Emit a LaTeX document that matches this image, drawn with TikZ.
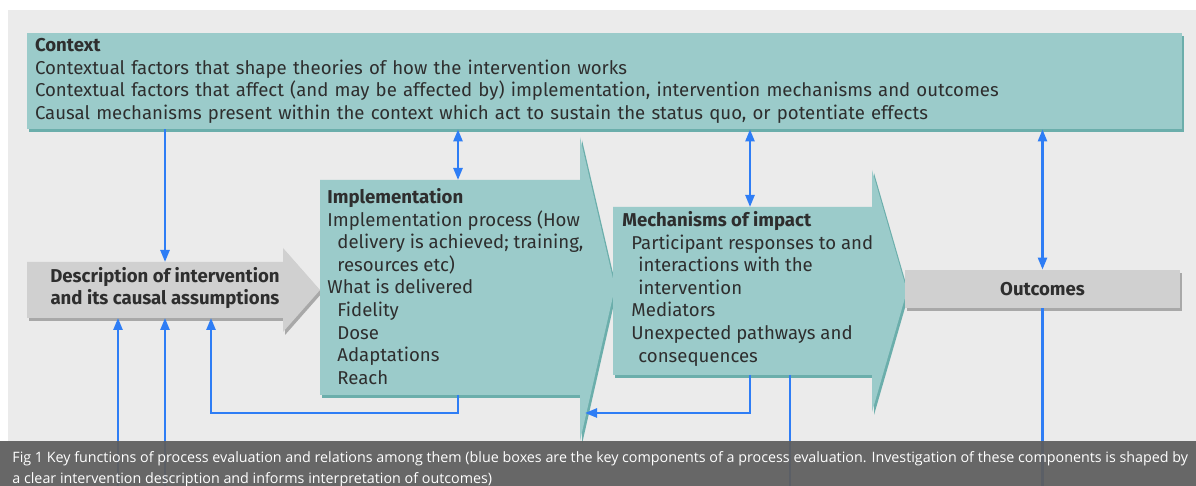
\documentclass[tikz,border=0pt]{standalone}
\usepackage{fontspec}
\setmainfont{Fira Sans}
\newfontfamily\capfont{Open Sans}
\usepackage{xcolor}
\usetikzlibrary{positioning,calc,shadows,arrows.meta}
\definecolor{pebg}{HTML}{EBEBEB}
\definecolor{peteal}{HTML}{9BCBCA}
\definecolor{petealdark}{HTML}{6BAEAB}
\definecolor{pegray}{HTML}{D0D0D0}
\definecolor{pegraydark}{HTML}{A8A8A8}
\definecolor{peblue}{HTML}{2E7DF5}
\definecolor{pefont}{HTML}{2E2E2E}
\definecolor{pecap}{HTML}{5E5E5E}

\begin{document}
\begin{tikzpicture}[x=0.5pt, y=-0.5pt, >={Triangle[length=6pt,width=4.5pt]},
    pe block/.style={fill=peteal, general shadow={fill=petealdark, shadow xshift=1pt, shadow yshift=-1.5pt}},
    pe grey/.style={fill=pegray, general shadow={fill=pegraydark, shadow xshift=1pt, shadow yshift=-1.5pt}},
    pe frame/.style={inner sep=0pt, outer sep=0pt},
    pe text/.style={font=\fontsize{9.3}{11.3}\selectfont, text=pefont, inner sep=0pt, align=left},
    pe bold/.style={font=\fontsize{9.3}{11.3}\selectfont\bfseries},
    pe link/.style={draw=peblue, line width=1.2pt}]
    \useasboundingbox (0,0) rectangle (1196,486);
    \fill[white] (0,0) rectangle (1196,486);
    \fill[pebg] (8,10) rectangle (1196,441);

    % context box across the top
    \node[pe block, pe text, minimum width=577.5pt, minimum height=48pt, text width=569.5pt] (context) at (604.5,81)
        {\textbf{Context}\\
         Contextual factors that shape theories of how the intervention works\\
         Contextual factors that affect (and may be affected by) implementation, intervention mechanisms and outcomes\\
         Causal mechanisms present within the context which act to sustain the status quo, or potentiate effects};

    % arrow shaped boxes
    \node[pe frame, minimum width=128pt, minimum height=28pt] (desc) at (155,290) {};
    \fill[pe grey] (desc.north west) -- (desc.north east) -- ++(0,7pt) -- ([xshift=18.5pt]desc.east)
        -- ([yshift=-7pt]desc.south east) -- (desc.south east) -- (desc.south west) -- cycle;

    \node[pe frame, minimum width=130pt, minimum height=107.5pt] (impl) at (450,287.5) {};
    \fill[pe block] (impl.north west) -- (impl.north east) -- ++(0,21.5pt) -- ([xshift=17.5pt]impl.east)
        -- ([yshift=-23pt]impl.south east) -- (impl.south east) -- (impl.south west) -- cycle;

    \node[pe frame, minimum width=129.5pt, minimum height=84pt] (mech) at (742.5,291) {};
    \fill[pe block] (mech.north west) -- (mech.north east) -- ++(0,18.5pt) -- ([xshift=17.5pt]mech.east)
        -- ([yshift=-18.5pt]mech.south east) -- (mech.south east) -- (mech.south west) -- cycle;

    \node[pe grey, pe text, pe bold, minimum width=137.5pt, minimum height=19pt] (outcomes) at (1042.5,289) {Outcomes};

    % texts on the shapes
    \node[pe text, pe bold, align=center] (desc text) at (165,288)
        {Description of intervention\\and its causal assumptions};
    \node[pe text, anchor=north west] (impl text) at (327,188)
        {\textbf{Implementation}\\
         Implementation process (How\\
         \hspace*{5pt}delivery is achieved; training,\\
         \hspace*{5pt}resources etc)\\
         What is delivered\\
         \hspace*{5pt}Fidelity\\
         \hspace*{5pt}Dose\\
         \hspace*{5pt}Adaptations\\
         \hspace*{5pt}Reach};
    \node[pe text, anchor=north west] (mech text) at (622,211)
        {\textbf{Mechanisms of impact}\\
         \hspace*{4.5pt}Participant responses to and\\
         \hspace*{8pt}interactions with the\\
         \hspace*{8pt}intervention\\
         \hspace*{4.5pt}Mediators\\
         \hspace*{4.5pt}Unexpected pathways and\\
         \hspace*{8pt}consequences};

    % connectors
    \coordinate (impl top) at ([xshift=4pt]impl.north);
    \coordinate (mech top) at ([xshift=3.75pt]mech.north);
    \coordinate (impl foot) at ([xshift=4pt]impl.south);
    \coordinate (mech foot) at ([xshift=3.75pt]mech.south);
    \coordinate (loop a) at (211,413);
    \coordinate (loop b) at (585,413);
    \coordinate (feed a) at (118,486);
    \coordinate (feed b) at (165,486);
    \coordinate (feed c) at (790,486);
    \coordinate (feed d) at (1042.5,486);

    \draw[pe link, ->] (context.south -| desc text) -- (desc.north -| desc text);
    \draw[pe link, <->] (context.south -| impl top) -- (impl top);
    \draw[pe link, <->] (context.south -| mech top) -- (mech top);
    \draw[pe link, <->] (context.south -| outcomes) -- (outcomes.north);
    \draw[pe link, ->] (feed a) -- (feed a |- desc.south);
    \draw[pe link, ->] (feed b) -- (feed b |- desc.south);
    \draw[pe link, ->] (impl foot) |- (loop a) -- (loop a |- desc.south);
    \draw[pe link, ->] (mech foot) |- (loop b);
    \draw[pe link] (feed c |- mech.south) -- (feed c);
    \draw[pe link] (outcomes.south) -- (feed d);

    % caption strip
    \fill[pecap, opacity=0.94] (0,441) rectangle (1196,486);
    \node[anchor=north west, inner sep=0pt, text=white, align=left, font=\capfont\fontsize{7.15}{10.5}\selectfont] (caption) at (12,451)
        {Fig 1 Key functions of process evaluation and relations among them (blue boxes are the key components of a process evaluation. Investigation of these components is shaped by\\
         a clear intervention description and informs interpretation of outcomes)};
\end{tikzpicture}
\end{document}
